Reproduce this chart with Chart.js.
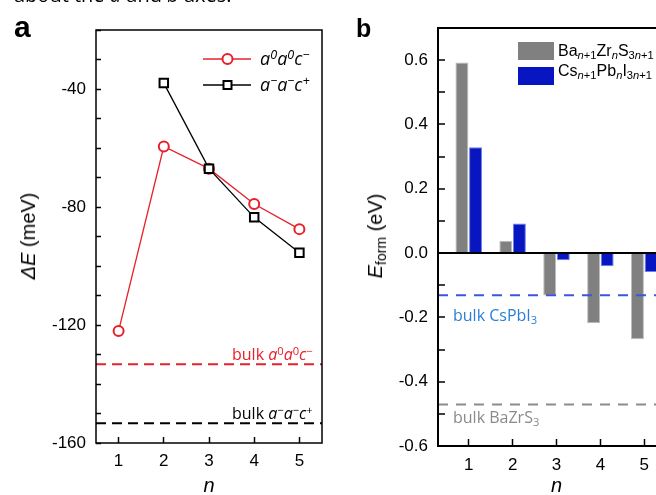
<!DOCTYPE html>
<html><head><meta charset="utf-8">
<script src="https://cdn.jsdelivr.net/npm/chart.js@4/dist/chart.umd.min.js"></script>
<style>
html,body{margin:0;padding:0;background:#fff;}
body{width:656px;height:495px;overflow:hidden;position:relative;}
canvas{position:absolute;top:0;}
#ca{left:0;}
#cb{left:330px;}
.t{position:absolute;white-space:nowrap;line-height:1;}
.os{font-family:"Open Sans",sans-serif;}
.ls{font-family:"Liberation Sans",Arial,sans-serif;}
sup{vertical-align:0;position:relative;top:-0.45em;font-size:0.7em;}
sub{vertical-align:0;position:relative;top:0.3em;font-size:0.7em;}
.rot{transform:translate(-50%,-50%) rotate(-90deg);}
</style></head><body>
<canvas id="ca" width="330" height="495"></canvas>
<canvas id="cb" width="360" height="495"></canvas>

<div class="t os" style="left:14px;top:-15px;font-size:20px;">about the <i>a</i> and <i>b</i> axes.</div>
<div class="t ls" style="left:14px;top:12px;font-size:30px;font-weight:bold;">a</div>
<div class="t ls" style="left:356px;top:16px;font-size:25px;font-weight:bold;">b</div>

<div class="t ls rot" style="left:28px;top:236px;font-size:20px;"><i>ΔE</i> (meV)</div>
<div class="t ls rot" style="left:375px;top:236px;font-size:20px;"><i>E</i><sub>form</sub> (eV)</div>

<svg style="position:absolute;left:203px;top:51px;" width="48" height="16">
 <line x1="0" y1="8" x2="48" y2="8" stroke="#e8202a" stroke-width="1.5"/>
 <circle cx="24.5" cy="8" r="5" fill="#fff" stroke="#e8202a" stroke-width="2"/>
</svg>
<svg style="position:absolute;left:203px;top:77px;" width="48" height="16">
 <line x1="0" y1="8" x2="48" y2="8" stroke="#000" stroke-width="1.5"/>
 <rect x="20.5" y="4" width="8" height="8" fill="#fff" stroke="#000" stroke-width="2"/>
</svg>
<div class="t os" style="left:260px;top:49px;font-size:18px;font-style:italic;">a<sup>0</sup>a<sup>0</sup>c<sup>−</sup></div>
<div class="t os" style="left:260px;top:74.5px;font-size:18px;font-style:italic;">a<sup>−</sup>a<sup>−</sup>c<sup>+</sup></div>

<div class="t os" style="left:232px;top:346px;font-size:16px;color:#e8202a;">bulk <i>a</i><sup>0</sup><i>a</i><sup>0</sup><i>c</i><sup>−</sup></div>
<div class="t os" style="left:232px;top:405px;font-size:16px;color:#000;">bulk <i>a</i><sup>−</sup><i>a</i><sup>−</sup><i>c</i><sup>+</sup></div>

<div style="position:absolute;left:518px;top:42px;width:36px;height:18px;background:#808080;"></div>
<div style="position:absolute;left:518px;top:67px;width:36px;height:18px;background:#0716c0;"></div>
<div class="t ls" style="left:558px;top:43px;font-size:16px;">Ba<sub><i>n</i>+1</sub>Zr<sub><i>n</i></sub>S<sub>3<i>n</i>+1</sub></div>
<div class="t ls" style="left:558px;top:63px;font-size:16px;">Cs<sub><i>n</i>+1</sub>Pb<sub><i>n</i></sub>I<sub>3<i>n</i>+1</sub></div>

<div class="t os" style="left:453px;top:306.5px;font-size:16px;color:#2a7fd5;">bulk CsPbI<sub>3</sub></div>
<div class="t os" style="left:453px;top:409px;font-size:16px;color:#8a8a8a;">bulk BaZrS<sub>3</sub></div>

<script>
// ---- Panel a data ----
const nValues = [1, 2, 3, 4, 5];
const dE_a0a0c = [-122, -59.5, -67, -79, -87.5];
const dE_aac = [null, -38, -67, -83.5, -95.5];
const bulk_a0a0c = -133.3;
const bulk_aac = -153.3;
const yTicksA = [-160, -120, -80, -40];
const xTicks = [1, 2, 3, 4, 5];
const xRangeA = [0.5, 5.5];
const yRangeA = [-160, -20];

// ---- Panel b data ----
const eForm_BaZrS = [0.593, 0.038, -0.132, -0.218, -0.268];
const eForm_CsPbI = [0.329, 0.092, -0.022, -0.041, -0.059];
const bulk_CsPbI3 = -0.131;
const bulk_BaZrS3 = -0.471;
const yTicksB = [-0.6, -0.4, -0.2, 0.0, 0.2, 0.4, 0.6];
const xRangeB = [0.3, 5.7];
const yRangeB = [-0.6, 0.7];

const RED = '#e8202a', BLUE = '#0716c0', GRAY = '#808080';
const tickFont = {family: '"Liberation Sans", Arial, sans-serif', size: 17};
const titleFont = {family: '"Liberation Sans", Arial, sans-serif', size: 20, style: 'italic'};

const framePlugin = {
  id: 'frame',
  afterDatasetsDraw(chart, args, opts) {
    const {ctx, chartArea: a} = chart;
    ctx.save();
    ctx.strokeStyle = '#000';
    ctx.lineWidth = opts.width || 1.5;
    ctx.strokeRect(a.left, a.top, a.right - a.left, a.bottom - a.top);
    ctx.restore();
  }
};

const pts = (xs, ys) => xs.map((x, i) => ({x, y: ys[i]}));
const hline = (range, v) => [{x: range[0], y: v}, {x: range[1], y: v}];
const setXTicks = s => { s.ticks = xTicks.map(v => ({value: v})); };

new Chart(document.getElementById('ca'), {
  type: 'line',
  data: {
    datasets: [
      {label: 'a-a-c+', data: pts(nValues, dE_aac), order: 1,
       borderColor: '#000', borderWidth: 1.3, pointStyle: 'rect', pointRadius: 6,
       pointBorderWidth: 2, pointBorderColor: '#000', pointBackgroundColor: '#fff', spanGaps: false},
      {label: 'a0a0c-', data: pts(nValues, dE_a0a0c), order: 2,
       borderColor: RED, borderWidth: 1.3, pointStyle: 'circle', pointRadius: 5,
       pointBorderWidth: 2, pointBorderColor: RED, pointBackgroundColor: '#fff'},
      {label: 'bulk a0a0c-', data: hline(xRangeA, bulk_a0a0c), order: 3,
       borderColor: RED, borderWidth: 2, borderDash: [10, 6], pointRadius: 0},
      {label: 'bulk a-a-c+', data: hline(xRangeA, bulk_aac), order: 3,
       borderColor: '#000', borderWidth: 2, borderDash: [10, 6], pointRadius: 0}
    ]
  },
  options: {
    responsive: false, animation: false, devicePixelRatio: 1,
    layout: {padding: {top: 30, right: 8, left: 0, bottom: 0}},
    plugins: {legend: {display: false}, tooltip: {enabled: false}, frame: {width: 1.5}},
    scales: {
      x: {type: 'linear', min: xRangeA[0], max: xRangeA[1],
          afterBuildTicks: setXTicks,
          afterFit(s) { s.height = 52; },
          border: {display: false},
          grid: {drawOnChartArea: false, tickLength: -6, tickColor: '#000', tickWidth: 1.5},
          ticks: {padding: 14, color: '#000', font: tickFont, callback: v => String(v)},
          title: {display: true, text: 'n', color: '#000', font: titleFont, padding: {top: 0, bottom: -3}}},
      y: {type: 'linear', min: yRangeA[0], max: yRangeA[1],
          afterFit(s) { s.width = 96; },
          border: {display: false},
          grid: {drawOnChartArea: false, tickLength: -5, tickColor: '#000', tickWidth: 1.5},
          ticks: {stepSize: 10, includeBounds: false, padding: 15, color: '#000', font: tickFont,
                  callback: v => yTicksA.includes(v) ? String(v) : ''}}
    }
  },
  plugins: [framePlugin]
});

new Chart(document.getElementById('cb'), {
  type: 'bar',
  data: {
    datasets: [
      {type: 'line', label: 'bulk CsPbI3', data: hline(xRangeB, bulk_CsPbI3), order: 0,
       borderColor: '#3d55d8', borderWidth: 2, borderDash: [10, 8], pointRadius: 0},
      {type: 'line', label: 'bulk BaZrS3', data: hline(xRangeB, bulk_BaZrS3), order: 0,
       borderColor: '#8c8c8c', borderWidth: 2, borderDash: [10, 8], pointRadius: 0},
      {label: 'Ba(n+1)Zr(n)S(3n+1)', data: pts(nValues, eForm_BaZrS), order: 1,
       backgroundColor: GRAY, borderColor: '#bdbdbd', borderWidth: 1,
       categoryPercentage: 0.62, barPercentage: 0.95},
      {label: 'Cs(n+1)Pb(n)I(3n+1)', data: pts(nValues, eForm_CsPbI), order: 1,
       backgroundColor: BLUE, borderColor: '#6f7fe6', borderWidth: 1,
       categoryPercentage: 0.62, barPercentage: 0.95}
    ]
  },
  options: {
    responsive: false, animation: false, devicePixelRatio: 1,
    layout: {padding: {top: 28, right: 15, left: 0, bottom: 0}},
    plugins: {legend: {display: false}, tooltip: {enabled: false}, frame: {width: 2}},
    scales: {
      x: {type: 'linear', min: xRangeB[0], max: xRangeB[1], offset: false,
          afterBuildTicks: setXTicks,
          afterFit(s) { s.height = 49; },
          border: {display: false},
          grid: {offset: false, drawOnChartArea: false, tickLength: -7, tickColor: '#000', tickWidth: 1.5},
          ticks: {padding: 16, color: '#000', font: tickFont, callback: v => String(v)},
          title: {display: true, text: 'n', color: '#000', font: titleFont, padding: {top: 0, bottom: -3}}},
      y: {type: 'linear', min: yRangeB[0], max: yRangeB[1],
          afterFit(s) { s.width = 108; },
          border: {display: false},
          grid: {drawOnChartArea: true, tickLength: -7, tickColor: '#000', tickWidth: 1.5, lineWidth: 2,
                 color: c => (c.tick && Math.abs(c.tick.value) < 1e-9) ? '#000' : 'rgba(0,0,0,0)'},
          ticks: {stepSize: 0.1, includeBounds: false, padding: 17, color: '#000', font: tickFont,
                  callback: v => { const r = Math.round(v * 10) / 10;
                    return yTicksB.some(t => Math.abs(t - r) < 1e-9) ? r.toFixed(1) : ''; }}}
    }
  },
  plugins: [framePlugin]
});
</script>
</body></html>
